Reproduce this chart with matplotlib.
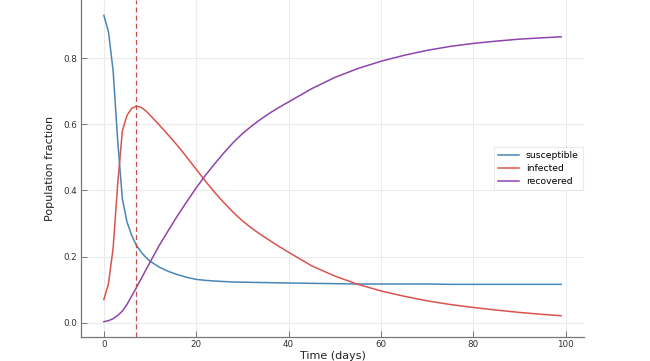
import matplotlib
matplotlib.use("Agg")
import matplotlib.pyplot as plt

# values (fractions of population)
days = [0, 1, 2, 3, 4, 5, 6, 7, 8, 9, 10, 12, 14, 16, 18, 20, 22, 24, 26, 28,
        30, 32, 34, 36, 38, 40, 45, 50, 55, 60, 65, 70, 75, 80, 85, 90, 95, 99]
susceptible = [0.930, 0.880, 0.763, 0.550, 0.375, 0.305, 0.265, 0.235, 0.215,
               0.199, 0.186, 0.168, 0.155, 0.145, 0.137, 0.131, 0.128, 0.126,
               0.1245, 0.123, 0.1225, 0.122, 0.1215, 0.121, 0.1205, 0.120,
               0.119, 0.118, 0.117, 0.117, 0.117, 0.117, 0.116, 0.116, 0.116,
               0.116, 0.116, 0.116]
infected = [0.070, 0.118, 0.225, 0.420, 0.580, 0.627, 0.648, 0.655, 0.652,
            0.642, 0.628, 0.598, 0.567, 0.535, 0.500, 0.464, 0.428, 0.394,
            0.363, 0.334, 0.308, 0.286, 0.266, 0.248, 0.230, 0.213, 0.172,
            0.141, 0.116, 0.096, 0.080, 0.066, 0.055, 0.046, 0.038, 0.031,
            0.025, 0.021]
recovered = [0.003, 0.006, 0.012, 0.022, 0.035, 0.055, 0.080, 0.105, 0.131,
             0.157, 0.183, 0.234, 0.280, 0.325, 0.367, 0.408, 0.446, 0.481,
             0.514, 0.545, 0.572, 0.595, 0.616, 0.635, 0.652, 0.668, 0.708,
             0.742, 0.769, 0.791, 0.809, 0.824, 0.836, 0.845, 0.852, 0.858,
             0.862, 0.865]
peak_day = 7

fig = plt.figure(figsize=(6.5, 3.61), dpi=100)
ax = fig.add_axes([81 / 650, 24 / 361, 503 / 650, 337 / 361])

ax.plot(days, susceptible, color='#4a86b5', lw=1.1, label='susceptible')
ax.plot(days, infected, color='#d9534f', lw=1.1, label='infected')
ax.plot(days, recovered, color='#8e44ad', lw=1.1, label='recovered')
ax.axvline(peak_day, color='#c0504d', lw=0.9, ls=(0, (4, 2.5)))

ax.set_xticks([0, 20, 40, 60, 80, 100])
ax.set_yticks([0.0, 0.2, 0.4, 0.6, 0.8])
ax.grid(True, color='#ebebeb', lw=0.8)
ax.set_axisbelow(True)

for side in ['top', 'right']:
    ax.spines[side].set_visible(False)
for side in ['left', 'bottom']:
    ax.spines[side].set_color('#777777')
    ax.spines[side].set_linewidth(0.9)
ax.tick_params(direction='in', length=4, width=0.7, color='#777777',
               labelsize=6.3, labelcolor='#333333', pad=2.5)

ax.set_xlabel('Time (days)', fontsize=8, color='#222222', labelpad=1)
ax.set_ylabel('Population fraction', fontsize=8, color='#222222', labelpad=6)

leg = ax.legend(loc='center right', fontsize=6.7, frameon=True, fancybox=False,
                borderaxespad=0.15, handlelength=2.2, labelspacing=0.45)
leg.get_frame().set_edgecolor('#e6e6e6')
leg.get_frame().set_linewidth(0.8)

fig.savefig('out.png', dpi=100)
